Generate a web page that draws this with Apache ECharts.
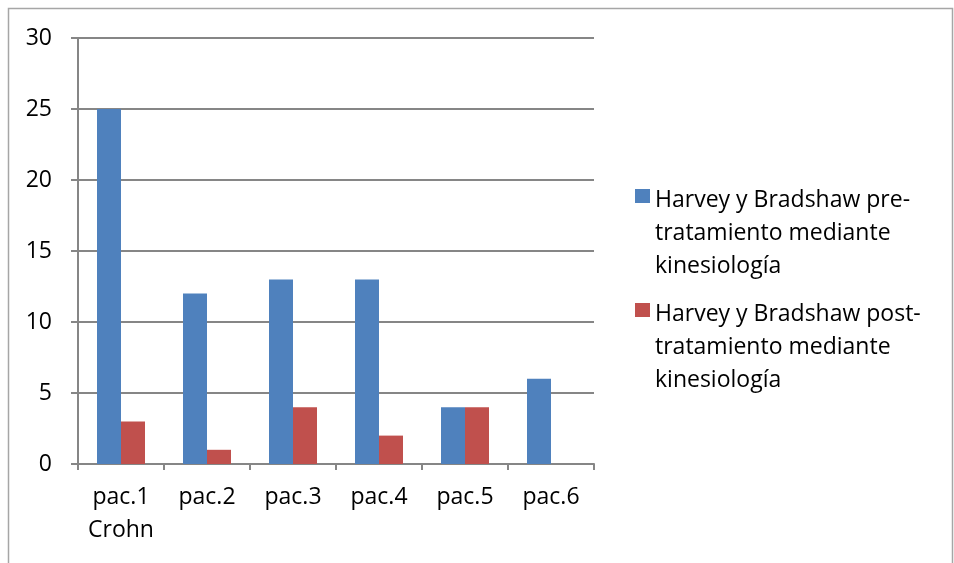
<!DOCTYPE html>
<html>
<head>
<meta charset="utf-8">
<script src="https://cdn.jsdelivr.net/npm/echarts@6/dist/echarts.min.js"></script>
<style>
  html, body { margin: 0; padding: 0; background: #fff; }
  #chart { width: 954px; height: 563px; }
</style>
</head>
<body>
<div id="chart"></div>
<script>
// Harvey-Bradshaw index per patient, before and after kinesiology treatment
const categories = ['pac.1\nCrohn', 'pac.2', 'pac.3', 'pac.4', 'pac.5', 'pac.6'];
const preValues = [25, 12, 13, 13, 4, 6];
const postValues = [3, 1, 4, 2, 4, null];
const seriesNames = [
  'Harvey y Bradshaw pre-tratamiento mediante kinesiología',
  'Harvey y Bradshaw post-tratamiento mediante kinesiología'
];
const legendLabels = {};
legendLabels[seriesNames[0]] = 'Harvey y Bradshaw pre-\ntratamiento mediante\nkinesiología';
legendLabels[seriesNames[1]] = 'Harvey y Bradshaw post-\ntratamiento mediante\nkinesiología';

const FONT = 'Open Sans';
const FONT_SIZE = 23;
const LINE_H = 33;
const AXIS_GRAY = '#868686';

// Legend marker: a square sitting beside the first text line of a 3-line entry.
// The zero-length segments stretch the symbol box to the full entry height.
const LEGEND_ICON = 'path://M0,0L0,0M0,5L15,5L15,19L0,19ZM0,99L0,99';

const chart = echarts.init(document.getElementById('chart'), null, { renderer: 'canvas' });
chart.setOption({
  animation: false,
  textStyle: { fontFamily: FONT },
  graphic: [{
    type: 'rect',
    shape: { x: 8.5, y: 8.5, width: 944, height: 600 },
    style: { fill: 'none', stroke: '#a6a6a6', lineWidth: 1.5 },
    silent: true
  }],
  grid: { left: 78, right: 360, top: 38, bottom: 99, containLabel: false },
  legend: {
    orient: 'vertical',
    left: 630,
    top: 179,
    itemWidth: 15,
    itemHeight: 99,
    itemGap: 15,
    icon: LEGEND_ICON,
    formatter: name => legendLabels[name],
    textStyle: {
      fontFamily: FONT, fontSize: FONT_SIZE, color: '#000',
      lineHeight: LINE_H
    },
    data: seriesNames
  },
  xAxis: {
    type: 'category',
    data: categories,
    axisLine: { lineStyle: { color: AXIS_GRAY, width: 2 } },
    axisTick: { show: true, length: 6, lineStyle: { color: AXIS_GRAY, width: 2 } },
    axisLabel: {
      color: '#000', fontSize: FONT_SIZE, fontFamily: FONT,
      lineHeight: LINE_H, margin: 17, interval: 0
    }
  },
  yAxis: {
    type: 'value',
    min: 0, max: 30, interval: 5,
    axisLine: { show: true, lineStyle: { color: AXIS_GRAY, width: 2 } },
    axisTick: { show: true, length: 7, lineStyle: { color: AXIS_GRAY, width: 2 } },
    splitLine: { lineStyle: { color: AXIS_GRAY, width: 2 } },
    axisLabel: { color: '#000', fontSize: FONT_SIZE, fontFamily: FONT, margin: 26 }
  },
  series: [
    {
      name: seriesNames[0], type: 'bar', data: preValues,
      barWidth: 24, barGap: '0%',
      itemStyle: { color: '#4f81bd' }
    },
    {
      name: seriesNames[1], type: 'bar', data: postValues,
      barWidth: 24, barGap: '0%',
      itemStyle: { color: '#c0504d' }
    }
  ]
});
</script>
</body>
</html>
